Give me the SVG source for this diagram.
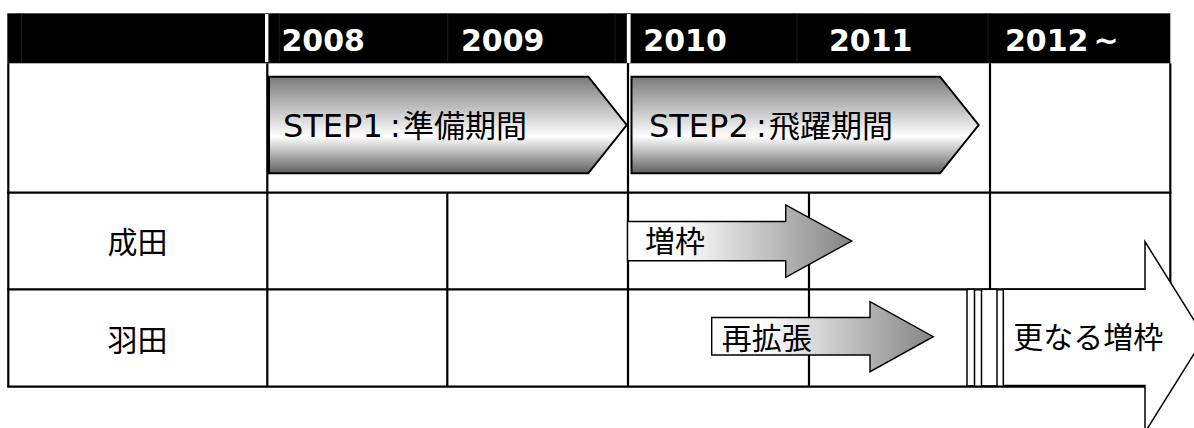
<svg xmlns="http://www.w3.org/2000/svg" width="1194" height="428" viewBox="0 0 1194 428">
  <defs>
    <linearGradient id="gStep" x1="0" y1="0" x2="0" y2="1">
      <stop offset="0" stop-color="#7a7a7a"/>
      <stop offset="0.62" stop-color="#ffffff"/>
      <stop offset="1" stop-color="#5e5e5e"/>
    </linearGradient>
    <linearGradient id="gArrow" x1="0" y1="0" x2="1" y2="0">
      <stop offset="0" stop-color="#ffffff"/>
      <stop offset="0.22" stop-color="#ffffff"/>
      <stop offset="1" stop-color="#858585"/>
    </linearGradient>
    <style>
      .grid { stroke: #000; stroke-width: 2.2; fill: none; }
      .sep { stroke: #1c1c1c; stroke-width: 1; }
      .yr { font-family: "DejaVu Sans", "Noto Sans CJK JP", sans-serif; font-weight: bold; font-size: 30px; fill: #fff; }
      .lbl { font-family: "Noto Sans CJK JP", sans-serif; font-size: 30px; fill: #000; }
      .step { font-family: "DejaVu Sans", "Noto Sans CJK JP", sans-serif; font-size: 32px; fill: #000; }
      .kanji { font-family: "Noto Sans CJK JP", sans-serif; font-size: 31px; }
      .steparrow { fill: url(#gStep); stroke: #000; stroke-width: 2; stroke-linejoin: miter; }
      .garrow { fill: url(#gArrow); stroke: #000; stroke-width: 1.4; }
      .warrow { fill: #fff; stroke: #000; stroke-width: 1.5; }
    </style>
  </defs>

  <g id="header">
    <rect x="7.3" y="13.3" width="1163" height="50" fill="#000"/>
    <line class="sep" x1="21.7" y1="14" x2="21.7" y2="62"/>
    <line class="sep" x1="279.3" y1="14" x2="279.3" y2="62"/>
    <line class="sep" x1="447.7" y1="14" x2="447.7" y2="62"/>
    <line class="sep" x1="615" y1="14" x2="615" y2="62"/>
    <line class="sep" x1="797" y1="14" x2="797" y2="62"/>
    <line class="sep" x1="988" y1="14" x2="988" y2="62"/>
    <rect x="265" y="14" width="3.4" height="48" fill="#fff"/>
    <rect x="626.8" y="14" width="3.8" height="49" fill="#fff"/>
    <text class="yr" x="281.5" y="50.7">2008</text>
    <text class="yr" x="461" y="50.7">2009</text>
    <text class="yr" x="643.3" y="50.7">2010</text>
    <text class="yr" x="829" y="50.7">2011</text>
    <text class="yr" x="1005" y="50.7">2012<tspan dx="5">~</tspan></text>
  </g>

  <g id="grid">
    <line class="grid" x1="8.3" y1="63.3" x2="8.3" y2="386.7"/>
    <line class="grid" x1="267.3" y1="63.3" x2="267.3" y2="386.7"/>
    <line class="grid" x1="447.3" y1="192.7" x2="447.3" y2="386.7"/>
    <line class="grid" x1="628" y1="63.3" x2="628" y2="386.7"/>
    <line class="grid" x1="809" y1="192.7" x2="809" y2="386.7"/>
    <line class="grid" x1="990" y1="63.3" x2="990" y2="289.3"/>
    <line class="grid" x1="1170.3" y1="63.3" x2="1170.3" y2="289.3"/>
    <line class="grid" x1="7.2" y1="192.7" x2="1171.4" y2="192.7"/>
    <line class="grid" x1="7.2" y1="289.3" x2="1171.4" y2="289.3"/>
    <line class="grid" x1="7.2" y1="386.7" x2="1171.4" y2="386.7"/>
  </g>

  <g id="row-narita">
    <text class="lbl" x="137.5" y="253" text-anchor="middle">成田</text>
  </g>
  <g id="row-haneda">
    <text class="lbl" x="137.5" y="351" text-anchor="middle">羽田</text>
  </g>

  <g id="step1">
    <polygon class="steparrow" points="269,76.7 588.3,76.7 626.7,125 588.3,173.3 269,173.3"/>
    <text class="step" y="136.7"><tspan x="283">STEP1</tspan><tspan x="390">:</tspan><tspan class="kanji" x="403">準備期間</tspan></text>
  </g>

  <g id="step2">
    <polygon class="steparrow" points="631.5,76.7 940,76.7 978.6,125 940,173.3 631.5,173.3"/>
    <text class="step" y="136.7"><tspan x="649">STEP2</tspan><tspan x="756">:</tspan><tspan class="kanji" x="769">飛躍期間</tspan></text>
  </g>

  <g id="narita-increase">
    <polygon class="garrow" points="627.5,221.5 785.7,221.5 785.7,205 851.7,241 785.7,277.3 785.7,260.7 627.5,260.7"/>
    <text class="lbl" x="645" y="252">増枠</text>
  </g>

  <g id="haneda-expansion">
    <polygon class="garrow" points="711.7,317.5 870,317.5 870,301.7 933.3,336.7 870,371.7 870,355 711.7,355"/>
    <text class="lbl" x="721.7" y="349">再拡張</text>
  </g>

  <g id="further-increase">
    <polygon class="warrow" points="1003.3,289.3 1145,289.3 1145,241.7 1204.6,337 1145,432.3 1145,385.5 1003.3,385.5"/>
    <rect class="warrow" x="967" y="289.3" width="7.5" height="96.6"/>
    <rect class="warrow" x="981.5" y="289.3" width="15.5" height="96.6"/>
    <text class="lbl" x="1013.3" y="348">更なる増枠</text>
  </g>
</svg>
